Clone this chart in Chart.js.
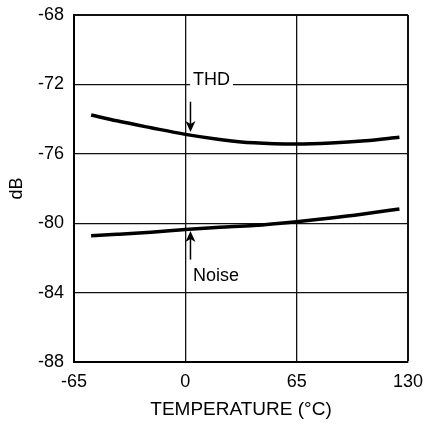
<!DOCTYPE html>
<html>
<head>
<meta charset="utf-8">
<script src="https://cdn.jsdelivr.net/npm/chart.js@4/dist/chart.umd.min.js"></script>
<style>
  html, body { margin: 0; padding: 0; background: #fff; }
  #wrap { width: 423px; height: 426px; }
</style>
</head>
<body>
<div id="wrap"><canvas id="chart"></canvas></div>
<script>
// ───────────────────────── DATA ─────────────────────────
const temperatures = [-55, -40, -20, 0, 20, 40, 65, 85, 105, 125];
const thdValues    = [-73.76, -74.1, -74.5, -74.88, -75.17, -75.37, -75.44, -75.38, -75.25, -75.05];
const noiseValues  = [-80.72, -80.64, -80.52, -80.37, -80.24, -80.13, -79.91, -79.7, -79.45, -79.18];
const xTicks = [-65, 0, 65, 130];
const yTicks = [-88, -84, -80, -76, -72, -68];

const FONT = "'Liberation Sans', Arial, sans-serif";

// ───────────────────────── ANNOTATIONS (label + arrow) ─────────────────────────
const annotations = [
    { text: "THD",   tx: 4.5, ty: -71.75, x: 3, from: -73.0, to: -74.75 },
    { text: "Noise", tx: 4.5, ty: -83.05, x: 3, from: -82.1, to: -80.45 }
];

const annotationPlugin = {
    id: "annotations",
    afterDatasetsDraw(chart) {
        const { ctx, scales: { x, y } } = chart;
        ctx.save();
        ctx.font = "18px " + FONT;
        ctx.textBaseline = "middle";
        ctx.textAlign = "left";
        annotations.forEach(a => {
            // label with white background to break the grid line
            const lx = x.getPixelForValue(a.tx);
            const ly = y.getPixelForValue(a.ty);
            const w = ctx.measureText(a.text).width;
            ctx.fillStyle = "#fff";
            ctx.fillRect(lx - 3, ly - 10, w + 6, 20);
            ctx.fillStyle = "#000";
            ctx.fillText(a.text, lx, ly);

            // arrow
            const ax = x.getPixelForValue(a.x);
            const y0 = y.getPixelForValue(a.from);
            const y1 = y.getPixelForValue(a.to);
            const dir = y1 > y0 ? 1 : -1;
            ctx.strokeStyle = "#000";
            ctx.lineWidth = 1.5;
            ctx.beginPath();
            ctx.moveTo(ax, y0);
            ctx.lineTo(ax, y1 - dir * 4);
            ctx.stroke();
            ctx.beginPath();
            ctx.moveTo(ax, y1);
            ctx.lineTo(ax - 5, y1 - dir * 11);
            ctx.lineTo(ax, y1 - dir * 8);
            ctx.lineTo(ax + 5, y1 - dir * 11);
            ctx.closePath();
            ctx.fillStyle = "#000";
            ctx.fill();
        });
        ctx.restore();
    }
};

// ───────────────────────── CHART SETUP ─────────────────────────
const edgeWidth = (ctx, edges) => edges.includes(ctx.tick && ctx.tick.value) ? 2 : 1.3;

new Chart(document.getElementById("chart"), {
    type: "line",
    data: {
        datasets: [
            {
                label: "THD",
                data: temperatures.map((t, i) => ({ x: t, y: thdValues[i] })),
                borderColor: "#000",
                borderWidth: 3.5,
                pointRadius: 0,
                cubicInterpolationMode: "monotone",
                fill: false
            },
            {
                label: "Noise",
                data: temperatures.map((t, i) => ({ x: t, y: noiseValues[i] })),
                borderColor: "#000",
                borderWidth: 3.5,
                pointRadius: 0,
                cubicInterpolationMode: "monotone",
                fill: false
            }
        ]
    },
    options: {
        responsive: true,
        maintainAspectRatio: false,
        animation: false,
        layout: { padding: { top: 15, right: 15, left: 0, bottom: 0 } },
        plugins: {
            legend: { display: false },
            tooltip: { enabled: false }
        },
        scales: {
            x: {
                type: "linear",
                min: -65,
                max: 130,
                afterBuildTicks: s => { s.ticks = xTicks.map(v => ({ value: v })); },
                // fixed height, and no extra edge padding for the end labels
                afterFit: s => { s.height = 64; s.paddingLeft = 0; s.paddingRight = 0; },
                ticks: { color: "#000", font: { family: FONT, size: 18 }, padding: 9, maxRotation: 0 },
                grid: { color: "#111", lineWidth: c => edgeWidth(c, [130]), drawTicks: false },
                border: { color: "#000", width: 2 },
                title: { display: true, text: "TEMPERATURE (°C)", color: "#000", font: { family: FONT, size: 19 }, padding: { top: 1, bottom: 5 } }
            },
            y: {
                min: -88,
                max: -68,
                afterBuildTicks: s => { s.ticks = yTicks.map(v => ({ value: v })); },
                afterFit: s => { s.width = 74; s.paddingTop = 0; s.paddingBottom = 0; },
                ticks: { color: "#000", font: { family: FONT, size: 18 }, padding: 10 },
                grid: { color: "#111", lineWidth: c => edgeWidth(c, [-68]), drawTicks: false },
                border: { color: "#000", width: 2 },
                title: { display: true, text: "dB", color: "#000", font: { family: FONT, size: 18 }, padding: { top: 6, bottom: 0 } }
            }
        }
    },
    plugins: [annotationPlugin]
});
</script>
</body>
</html>
